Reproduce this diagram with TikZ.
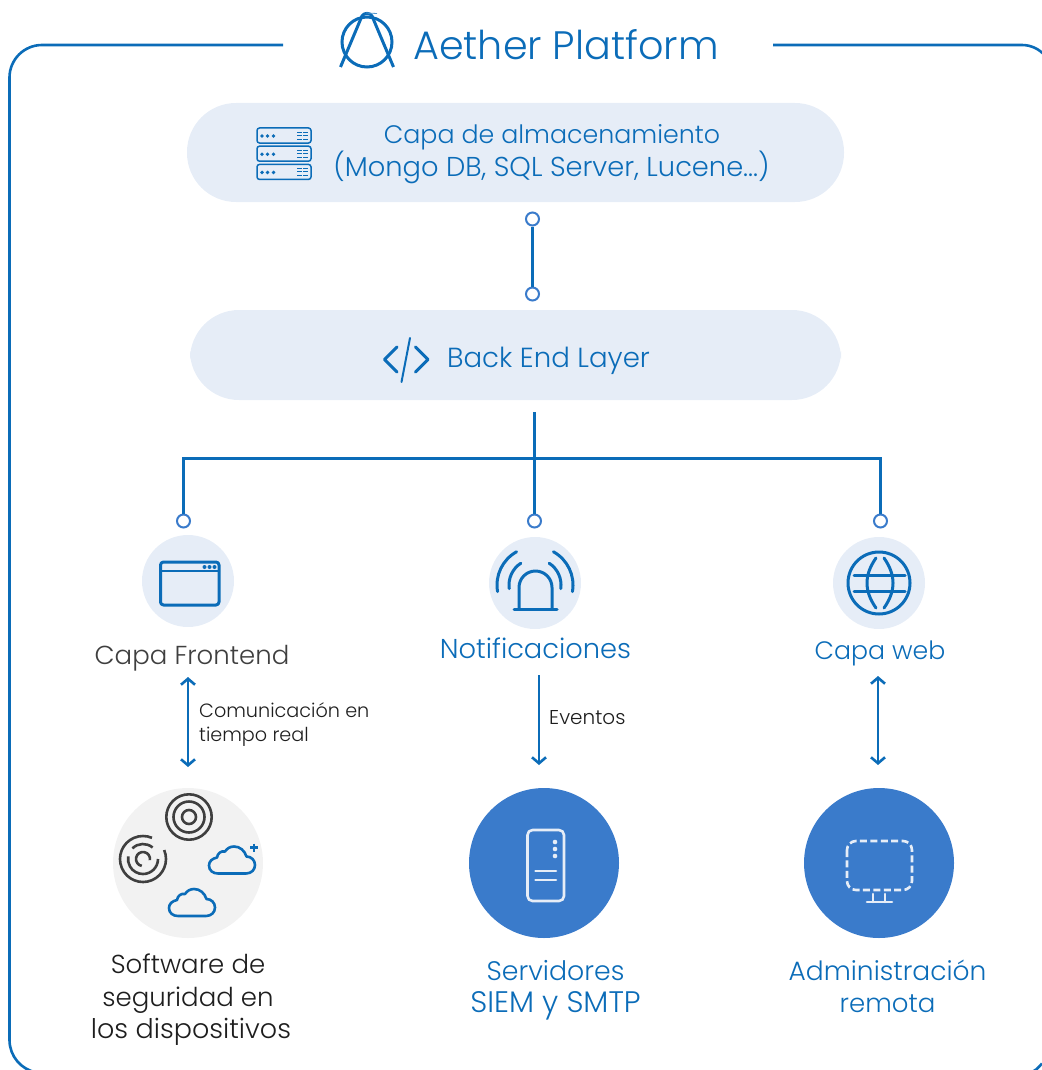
\documentclass[tikz,border=0pt]{standalone}
\usepackage{fontspec}
\setmainfont{Poppins}[UprightFont=* Light]
\usetikzlibrary{arrows.meta}
\definecolor{ablue}{HTML}{0B6CB8}
\definecolor{pale}{HTML}{E6EDF7}
\definecolor{solid}{HTML}{3A7BCB}
\definecolor{softgrey}{HTML}{F2F2F2}
\definecolor{dark}{HTML}{3F3F3F}
\definecolor{ink}{HTML}{1E1E1E}
\newcommand{\ringarc}[4]{([shift={(#2:#1)}]#4) arc[start angle=#2,end angle=#3,radius=#1]}
\newcommand{\cloudshape}[1]{%
\draw[ablue,line width=2.6pt,line join=round,shift={(#1)}]
 (9,27) -- (37,27) .. controls (42.5,27) and (46,23) .. (46,18.5)
 .. controls (46,13.5) and (42,10) .. (37.5,10)
 .. controls (35.5,4) and (31,0) .. (25,0)
 .. controls (21,0) and (18,2) .. (16,5)
 .. controls (12,4) and (8.5,7) .. (8,11)
 .. controls (3,12) and (0,15) .. (0,19)
 .. controls (0,24) and (4,27) .. (9,27) -- cycle;}
\newcommand{\stackunit}[1]{%
\begin{scope}[shift={(0,#1)}]
\draw[ablue,line width=1.5pt,fill=pale,rounded corners=2.5pt] (257,128) rectangle (311,143);
\fill[ablue] (262,136) circle (1.9) (267.5,136) circle (1.9) (273.5,136) circle (1.9);
\draw[ablue,line width=.9pt] (297,132)--(302,132) (303,132)--(308,132) (297,135.5)--(302,135.5) (303,135.5)--(308,135.5) (297,139)--(302,139) (303,139)--(308,139);
\end{scope}}
\tikzset{
 pill/.style={fill=pale,rounded corners=49pt,inner sep=0pt,minimum height=#1},
 dotnode/.style={circle,draw=solid,fill=white,line width=2pt,minimum size=13pt,inner sep=0pt},
 wire/.style={ablue,line width=3pt},
 frameline/.style={ablue,line width=2.6pt},
 iconcircle/.style={circle,inner sep=0pt,minimum size=92pt,fill=pale},
 bigcircle/.style={circle,inner sep=0pt,minimum size=150pt},
 twoway/.style={ablue,line width=2.8pt,{Straight Barb[length=6pt,width=14pt,line width=2.6pt]}-{Straight Barb[length=6pt,width=14pt,line width=2.6pt]}},
 oneway/.style={ablue,line width=2.8pt,-{Straight Barb[length=6pt,width=14pt,line width=2.6pt]}},
 glyph/.style={ablue,line width=3pt,line cap=round,line join=round},
 lightglyph/.style={pale,line width=2.6pt,line cap=round,line join=round},
 disc/.style={dark,line width=2.6pt},
 lab/.style={anchor=base,font=\fontsize{#1}{30}\selectfont,text=ablue,inner sep=0pt},
 lab/.default=26,
 small/.style={anchor=base west,font=\fontsize{#1}{24}\selectfont,text=ink,inner sep=0pt},
 small/.default=20,
}
\begin{document}
\begin{tikzpicture}[x=1pt,y=1pt,yscale=-1]
\useasboundingbox (0,0) rectangle (1041,1070);
% frame
\coordinate (frameA) at (283,45);
\coordinate (frameB) at (773,45);
\coordinate (frameC) at (1032,1072);
\coordinate (frameD) at (1042,1063.5);
\draw[frameline] (frameA) -- (42,45) arc[start angle=270,end angle=180,radius=32.5] -- (9.5,1040) arc[start angle=180,end angle=100,radius=33];
\draw[frameline] (frameB) -- (1022,45) arc[start angle=270,end angle=320,radius=30];
\draw[frameline] (frameC) .. controls (1036,1070) .. (frameD);
% logo
\draw[ablue,line width=3pt] (367,42) circle (25);
\draw[ablue,line width=3pt,line join=round] (340.5,67) -- (362,16) .. controls (364,12.5) and (370,12.5) .. (372,16) -- (393.5,67);
\draw[ablue!70,line width=.8pt] (366,13) -- (377,13.5);
\node[anchor=base west,font=\fontsize{39.7}{44}\selectfont,text=ablue,inner sep=0pt] (title) at (413,60) {Aether Platform};
% pills
\node[pill=99pt,minimum width=657pt] (storage) at (515.5,152.5) {};
\node[pill=90pt,minimum width=651pt] (backend) at (515.5,355) {};
\stackunit{0}\stackunit{18.2}\stackunit{36.4}
\node[lab=25.3] (st1) at (552,143) {Capa de almacenamiento};
\node[lab=27.3] (st2) at (551.5,176) {(Mongo DB, SQL Server, Lucene...)};
\draw[glyph] (397,347) -- (384.5,359.5) -- (397,372);
\draw[glyph] (415.5,347) -- (428,359.5) -- (415.5,372);
\draw[glyph,line width=2pt] (410,338) -- (401.5,382);
\node[lab=27.6] (be) at (548.5,367) {Back End Layer};
% connectors
\node[dotnode] (d1) at (532.5,219) {};
\node[dotnode] (d2) at (532.5,294) {};
\draw[wire] (d1) -- (d2);
\coordinate (drop) at (534.5,412);
\coordinate (hubL) at (183.5,458.5);
\coordinate (hubR) at (880.5,458.5);
\node[dotnode] (d3) at (183.5,521) {};
\node[dotnode] (d4) at (534.5,521) {};
\node[dotnode] (d5) at (880.5,521) {};
\draw[wire] (drop) -- (d4);
\draw[wire,line join=miter] (d3) -- (hubL) -- (hubR) -- (d5);
% icon circles
\node[iconcircle] (fe) at (188,581) {};
\node[iconcircle] (no) at (535,583) {};
\node[iconcircle] (we) at (879,583) {};
% browser
\draw[glyph] (160.5,562) [rounded corners=3pt] rectangle (219,605);
\draw[glyph,line width=2.2pt] (160.5,571) -- (219,571);
\fill[ablue] (204.5,567) circle (2) (209.5,567) circle (2) (214.5,567) circle (2);
% alarm
\draw[glyph] (519,609) -- (519,587.5) arc[start angle=180,end angle=360,radius=16.5] -- (552,609);
\draw[glyph] (514,609.5) -- (557,609.5);
\draw[glyph] \ringarc{38}{170}{241}{535,585} \ringarc{38}{299}{370}{535,585} \ringarc{26}{172}{237}{535,585} \ringarc{26}{303}{368}{535,585};
% globe
\draw[glyph] (879,583) circle (31);
\draw[glyph] (854,575) -- (905,575) (854,591) -- (905,591);
\draw[glyph] (876,558) .. controls (864,575) and (864,591) .. (876,608);
\draw[glyph] (884,558) .. controls (896,575) and (896,591) .. (884,608);
% labels
\node[lab,text=dark] (felab) at (192,664) {Capa Frontend};
\node[lab=27.3] (nolab) at (535.5,658) {Notificaciones};
\node[lab=25.2] (welab) at (880,659) {Capa web};
% arrows
\coordinate (a1) at (188,677); \coordinate (a2) at (188,767);
\coordinate (b1) at (539,675); \coordinate (b2) at (539,765);
\coordinate (c1) at (878,676); \coordinate (c2) at (878,765);
\draw[twoway] (a1) -- (a2);
\draw[oneway] (b1) -- (b2);
\draw[twoway] (c1) -- (c2);
\node[small=19.2] (t1) at (199,717) {Comunicación en};
\node[small=19.2] (t2) at (199,741) {tiempo real};
\node[small] (t3) at (549,724) {Eventos};
% bottom circles
\node[bigcircle,fill=softgrey] (sw) at (188,863) {};
\node[bigcircle,fill=solid] (srv) at (544,863) {};
\node[bigcircle,fill=solid] (adm) at (879,863) {};
% discs
\draw[disc] (189,817) circle (22.7) (189,817) circle (15.5) (189,817) circle (7);
\draw[disc] \ringarc{23}{-23}{293}{143,859} \ringarc{15}{0}{190}{143,859} \ringarc{15}{225}{310}{143,859} \ringarc{7}{100}{370}{143,859};
% clouds
\cloudshape{209,846.5}
\cloudshape{169,889}
\draw[ablue,line width=2.6pt] (250,847.7) -- (258,847.7) (254,843.7) -- (254,851.7);
% tower
\draw[lightglyph,rounded corners=5pt] (527.5,830) rectangle (564,901);
\fill[pale] (555,842) circle (2.3) (555,849) circle (2.3) (555,856) circle (2.3);
\draw[lightglyph] (535.5,871) -- (556,871) (535.5,880) -- (556,880);
% monitor
\draw[lightglyph,line cap=butt,dash pattern=on 7pt off 3.4pt,rounded corners=9pt] (847,841) rectangle (912,890);
\draw[lightglyph] (873,894) -- (873,902) (885,894) -- (885,902) (867,902) -- (892,902);
% lower labels
\node[lab,text=ink] (s1) at (188,973) {Software de};
\node[lab,text=ink] (s2) at (188,1006) {seguridad en};
\node[lab=27,text=ink] (s3) at (191,1038) {los dispositivos};
\node[lab=26.8] (v1) at (555.5,980) {Servidores};
\node[lab=29.7] (v2) at (555.5,1012) {SIEM y SMTP};
\node[lab=26.5] (m1) at (887.5,980) {Administración};
\node[lab] (m2) at (887.5,1012) {remota};
\end{tikzpicture}
\end{document}
